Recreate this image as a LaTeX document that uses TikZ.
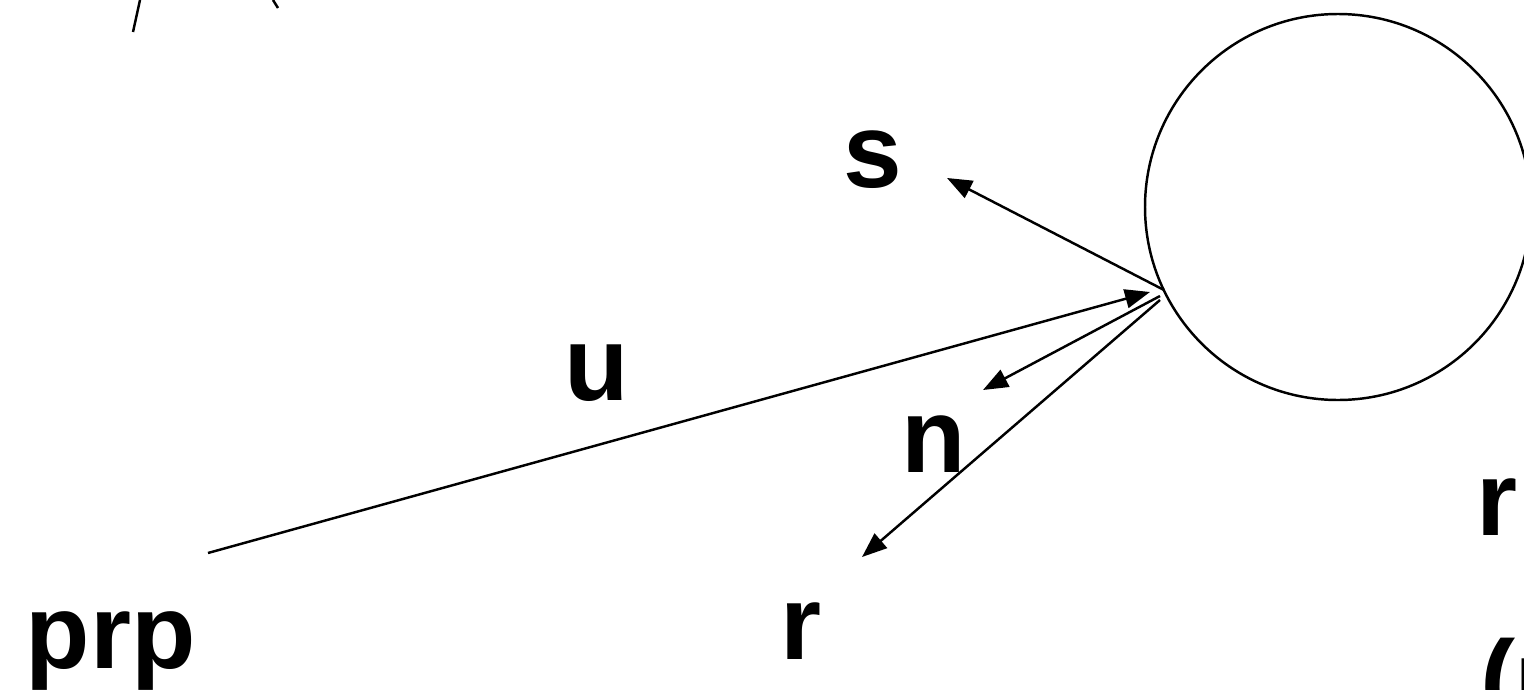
\documentclass[tikz,border=0pt]{standalone}
\usepackage{fontspec}
\setmainfont{Liberation Sans}
\usetikzlibrary{arrows.meta}

\begin{document}
\begin{tikzpicture}[
      lbl/.style={font=\fontsize{30}{36}\selectfont\bfseries, anchor=base west, inner sep=0pt},
      arr/.style={-{Triangle[length=0.25cm, width=0.19cm]}, line width=0.7pt},
      ln/.style={line width=0.7pt}
    ]
    \useasboundingbox (0,0) rectangle (15.24,6.89);
    \clip (0,0) rectangle (15.24,6.89);

    % sphere and the point on it
    \node[draw, circle, line width=0.7pt, minimum size=3.86cm, inner sep=0pt] (ball) at (13.38,4.82) {};
    \coordinate (hit) at (11.64,3.99);
    \coordinate (eye) at (2.08,1.36);
    \coordinate (ueye) at (11.50,3.97);
    \coordinate (ntail) at (11.60,3.93);
    \coordinate (rtail) at (11.60,3.89);
    \coordinate (stip) at (9.47,5.11);
    \coordinate (ntip) at (9.83,2.99);
    \coordinate (rtip) at (8.62,1.32);

    % cut-off strokes at the top
    \coordinate (a1) at (1.33,6.57);
    \coordinate (a2) at (1.40,6.89);
    \coordinate (b1) at (2.73,6.89);
    \coordinate (b2) at (2.78,6.81);
    \draw[ln] (a1) -- (a2);
    \draw[ln] (b1) -- (b2);

    \draw[arr] (hit) -- (stip);
    \draw[arr] (eye) -- (ueye);
    \draw[arr] (ntail) -- (ntip);
    \draw[arr] (rtail) -- (rtip);

    \node[lbl] (s)   at (8.43,5.02) {s};
    \node[lbl] (u)   at (5.64,2.89) {u};
    \node[lbl] (n)   at (9.01,2.17) {n};
    \node[lbl] (r)   at (7.80,0.30) {r};
    \node[lbl] (prp) at (0.25,0.21) {prp};
    \node[lbl] (r2)  at (14.76,1.54) {r};
    \node[lbl] (ul)  at (14.80,-0.25) {(u};
  \end{tikzpicture}
\end{document}
